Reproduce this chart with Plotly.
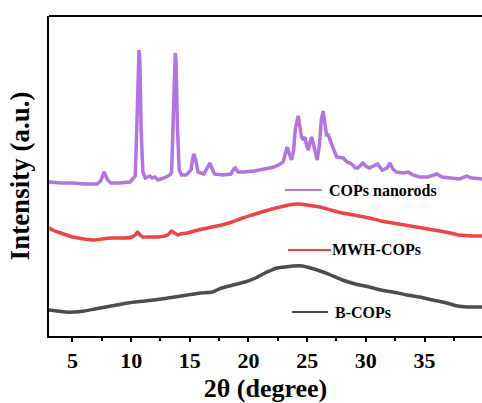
import plotly.graph_objects as go

# ---- data ----
nanorods_x = [3.0,4.0,5.0,6.0,7.1,7.4,7.7,8.0,8.3,9.0,9.9,10.35,10.5,10.6,10.67,10.75,10.85,11.0,11.2,11.6,
              11.8,12.0,12.3,12.8,13.3,13.45,13.6,13.7,13.76,13.82,13.95,14.1,14.3,14.7,15.1,15.25,15.35,15.5,15.7,16.2,
              16.55,16.7,16.85,17.1,17.8,18.5,18.75,18.87,19.1,19.6,20.5,21.5,22.2,22.7,22.95,23.15,23.3,23.45,23.67,23.85,
              24.0,24.24,24.4,24.52,24.66,24.81,24.95,25.09,25.25,25.38,25.55,25.85,26.05,26.2,26.36,26.5,26.65,26.79,27.0,27.3,
              27.51,28.07,28.4,28.64,28.9,29.1,29.32,29.75,30.0,30.3,30.7,31.0,31.4,31.8,32.05,32.3,32.6,33.2,33.6,34.0,
              34.6,35.3,36.05,36.5,37.2,38.0,38.6,39.0,39.9]
nanorods_y = [154,153,153,152,152,155,164,156,153,153,154,160,216,276,286,274,206,164,158,160,
              158,159,156,158,161,164,226,278,283,276,206,166,161,161,166,178,182,176,164,162,
              169,173,169,162,161,162,167,168,164,164,165,167,169,172,174,183,189,183,176,186,
              208,220,208,199,196,199,191,186,194,199,191,176,191,216,225,214,201,201,194,184,
              179,178,174,173,171,168,168,173,170,168,170,172,166,168,173,167,164,163,164,161,
              159,159,162,159,158,157,160,158,157]

mwh_x = [3.0,3.5,4.0,4.5,5.0,5.5,6.0,6.9,7.5,8.4,9.5,10.07,10.35,10.55,10.75,11.0,11.5,12.3,13.1,13.3,
         13.45,13.7,14.0,14.2,14.8,15.4,16.1,16.9,17.7,18.6,19.5,20.3,21.4,22.0,22.7,23.4,24.2,25.0,25.5,26.1,
         27.0,28.0,29.0,30.3,31.3,32.3,33.3,34.3,35.3,36.3,37.2,38.0,39.0,39.9]
mwh_y = [108,105,103,101,99,98,97,96,97,98,98,99,101,104,101,99,99,99,101,103,
         105,103,101,102,103,105,107,109,111,114,118,121,125,127,129,131,132,131,130,129,
         126,123,121,118,115,113,111,109,107,105,103,101,100,100]

b_x = [3.0,3.7,4.36,5.2,6.0,6.9,8.3,9.7,11.2,12.6,13.7,14.8,15.9,16.9,17.7,18.7,19.7,20.6,21.4,22.0,
       22.4,23.1,23.8,24.6,25.3,26.1,27.0,28.0,29.1,30.3,31.3,32.3,33.5,34.6,35.7,36.9,37.8,38.6,39.9]
b_y = [26,25,24,24,25,27,30,33,35,37,39,41,43,44,48,51,54,58,63,66,
       68,69,70,70,68,65,61,56,52,49,46,44,41,39,36,33,30,29,29]

names = ["COPs nanorods", "MWH-COPs", "B-COPs"]
colors = ["#B374E3", "#F04343", "#4D4D4D"]
x_ticks = [5, 10, 15, 20, 25, 30, 35]

FONT = "Liberation Serif, Times New Roman, serif"

fig = go.Figure()
shapes = ["linear", "spline", "spline"]
for xs, ys, name, col, sh in zip([nanorods_x, mwh_x, b_x], [nanorods_y, mwh_y, b_y], names, colors, shapes):
    fig.add_trace(go.Scatter(x=xs, y=ys, mode="lines", name=name,
                             line=dict(color=col, width=3.5, shape=sh, smoothing=0.6),
                             showlegend=False))

# legend-like labels placed next to each curve
leg_pos = [  # (line x0, line x1, y, text x) in paper coords
    (0.545, 0.630, 0.456, 0.642),
    (0.552, 0.651, 0.269, 0.649),
    (0.561, 0.644, 0.075, 0.656),
]
for (x0, x1, yy, tx), name, col in zip(leg_pos, names, colors):
    fig.add_shape(type="line", xref="paper", yref="paper", x0=x0, x1=x1, y0=yy, y1=yy,
                  line=dict(color=col, width=2))
    fig.add_annotation(xref="paper", yref="paper", x=tx, y=yy, text=name, showarrow=False,
                       xanchor="left", yanchor="middle",
                       font=dict(family=FONT, size=16, color="black", weight="bold"))

# top frame line
fig.add_shape(type="line", xref="paper", yref="paper", x0=0, x1=1, y0=1, y1=1,
              line=dict(color="black", width=2))

fig.update_layout(
    width=482, height=403,
    margin=dict(l=49, r=0, t=16, b=67),
    paper_bgcolor="white", plot_bgcolor="white",
    xaxis=dict(range=[3, 39.9], tickvals=x_ticks, ticktext=[str(t) for t in x_ticks],
               showline=True, linecolor="black", linewidth=2, mirror=False,
               ticks="outside", ticklen=4, tickwidth=2, tickcolor="black",
               minor=dict(ticks="outside", ticklen=3, tickwidth=1.5, tickcolor="black", dtick=2.5, tick0=0),
               showgrid=False, zeroline=False, automargin=False,
               tickfont=dict(family=FONT, size=22, color="black", weight="bold"),
               title=dict(text="2θ (degree)", standoff=6,
                          font=dict(family=FONT, size=26, color="black", weight="bold"))),
    yaxis=dict(range=[0, 320], showline=True, linecolor="black", linewidth=2, mirror=False,
               showticklabels=False, ticks="", showgrid=False, zeroline=False, automargin=False,
               title=dict(text="Intensity (a.u.)", standoff=10,
                          font=dict(family=FONT, size=27, color="black", weight="bold"))),
)

fig.write_html("out.html")
